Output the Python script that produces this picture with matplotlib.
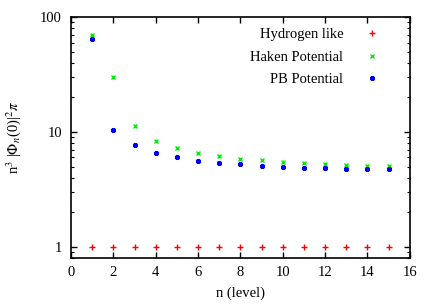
# Wavefunction density at origin vs principal quantum number

import numpy as np
import matplotlib.pyplot as plt
from matplotlib.ticker import LogLocator, NullFormatter

plt.rcParams['font.family'] = ['Liberation Serif', 'DejaVu Serif']
plt.rcParams['mathtext.fontset'] = 'stix'

# Data
n_level = np.arange(1, 16)
hydrogen = [1.0] * 15
haken = [69.7, 30.1, 11.3, 8.4, 7.26, 6.57, 6.18, 5.82, 5.67, 5.49, 5.37, 5.27, 5.17, 5.10, 5.07]
pb = [64.7, 10.4, 7.76, 6.61, 6.03, 5.63, 5.41, 5.24, 5.09, 4.99, 4.90, 4.84, 4.79, 4.74, 4.72]

fig = plt.figure(figsize=(4.36, 3.05), dpi=100)
ax = fig.add_axes([0.163, 0.154, 0.777, 0.790])

ax.plot(n_level, hydrogen, linestyle='none', marker='+', color='red', markersize=4, markeredgewidth=1.0, label='Hydrogen like')
ax.plot(n_level, haken, linestyle='none', marker='x', color='#00ee00', markersize=3.2, markeredgewidth=1.0, label='Haken Potential')
ax.plot(n_level, pb, linestyle='none', marker=(6, 2, 0), color='blue', markersize=3.5, markeredgewidth=1.3, label='PB Potential')

ax.set_yscale('log')
ax.set_xlim(0, 16)
ax.set_ylim(0.8, 100)
ax.set_xticks(range(0, 17, 2))
ax.set_yticks([1, 10, 100])
ax.set_yticklabels(['1', '10', '100'])
ax.yaxis.set_minor_locator(LogLocator(base=10, subs=np.arange(2, 10)))
ax.yaxis.set_minor_formatter(NullFormatter())

ax.tick_params(which='both', direction='in', top=True, right=True, labelsize=10.5)
ax.tick_params(which='major', length=4, width=1)
ax.tick_params(which='minor', length=2, width=0.8)
ax.tick_params(axis='y', which='major', pad=6.5)
ax.tick_params(axis='x', which='major', pad=6)
for s in ax.spines.values():
    s.set_linewidth(1.2)

ax.set_xlabel('n (level)', fontsize=10.5, labelpad=5)
ax.set_ylabel(r'n$^3$ |$\Phi_n$(0)|$^2\pi$', fontsize=10.5, labelpad=12)

ax.legend(loc='upper right', bbox_to_anchor=(0.971, 1.01), frameon=False, markerfirst=False,
          fontsize=10.5, handlelength=2, handletextpad=1.0, labelspacing=0.65, borderaxespad=0.5,
          alignment='right')

fig.savefig('out.png', dpi=100)
